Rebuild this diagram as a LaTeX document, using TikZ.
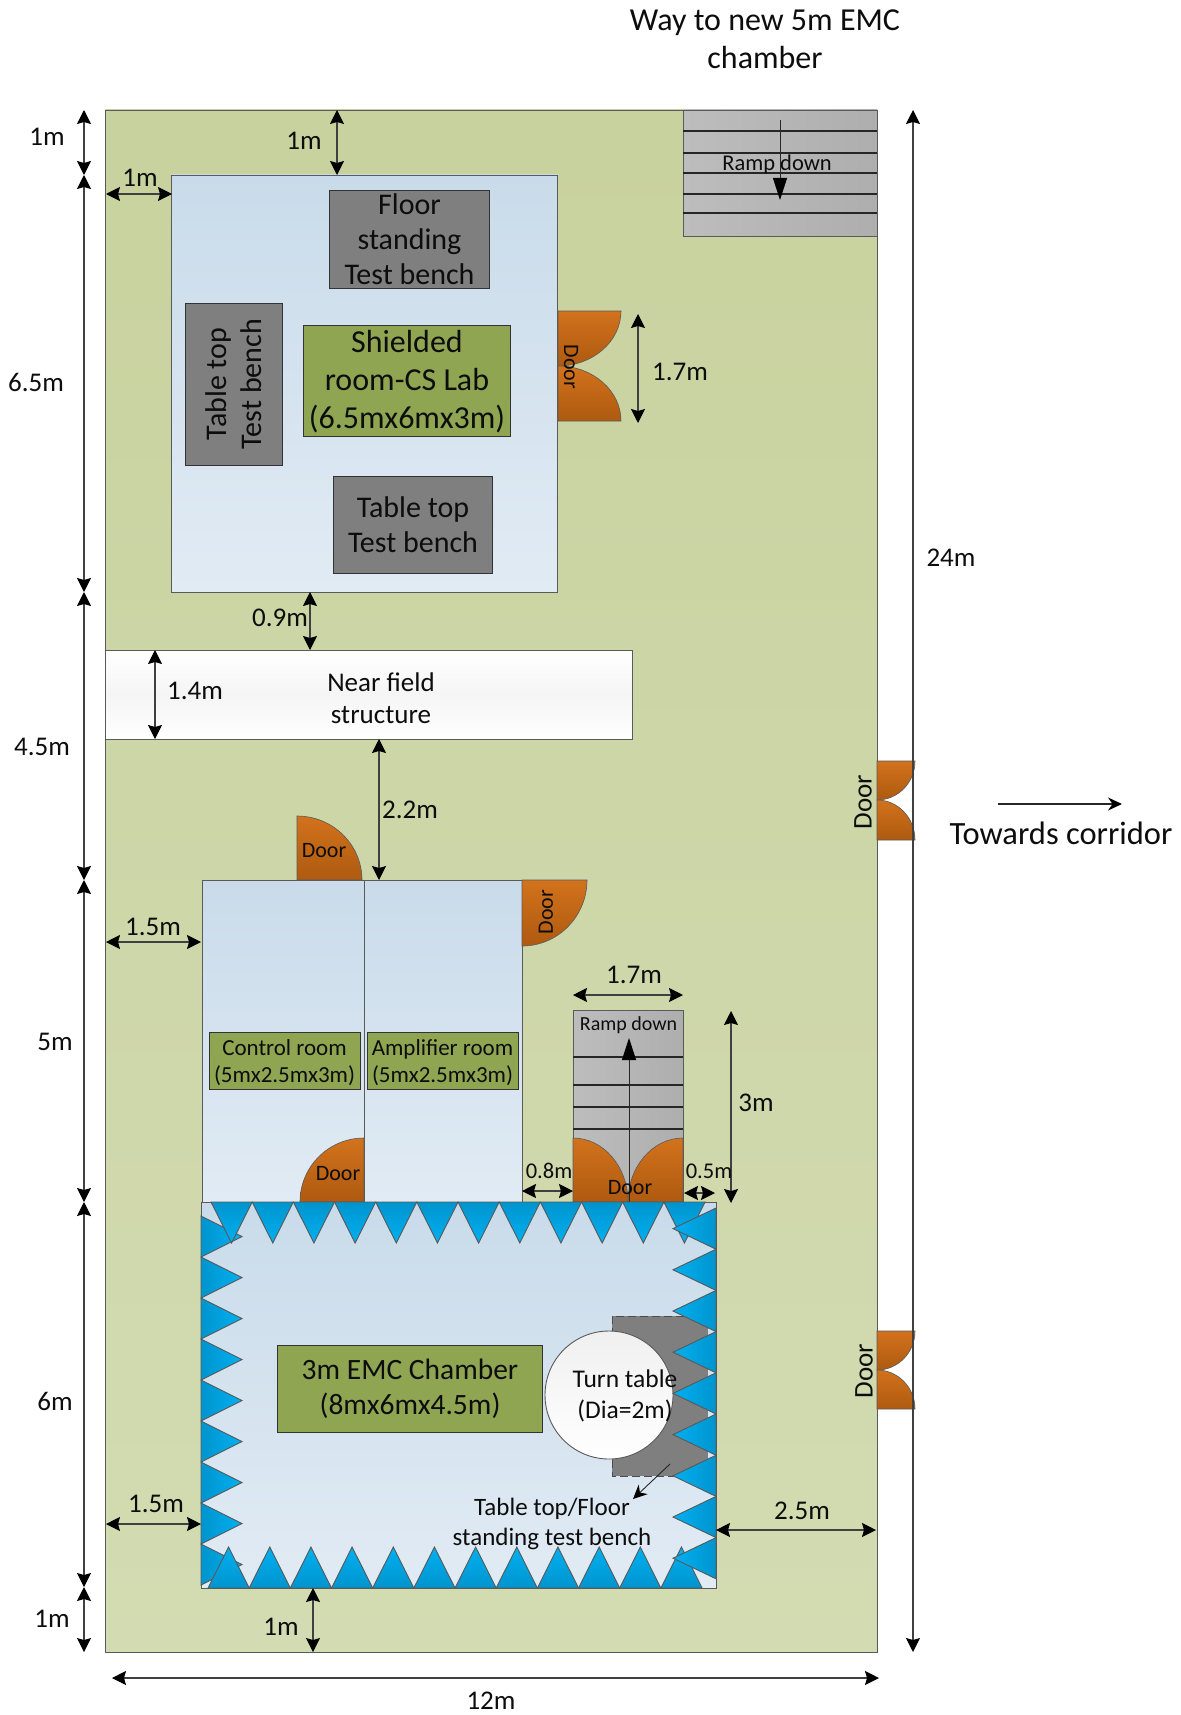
\documentclass[tikz,border=0pt]{standalone}
\usepackage{fontspec}
\setmainfont{Carlito}
\usetikzlibrary{arrows.meta}
\definecolor{edge}{HTML}{5A5A5A}
\definecolor{ink}{HTML}{0D0D0D}
\tikzset{
  x=1pt,y=-1pt,
  every node/.style={inner sep=0pt,outer sep=0pt,text=ink},
  lbl/.style={align=center,font=\fontsize{27}{30}\selectfont,yshift=-1pt},
  room/.style={draw=edge,line width=0.8pt,top color=roomtop,bottom color=roombot},
  panel/.style={draw=black!80,line width=0.9pt,fill=gray50,align=center},
  greenbox/.style={draw=black!80,line width=0.9pt,fill=grn,align=center},
  door/.style={draw=edge,line width=0.6pt,top color=doortop,bottom color=doorbot},
  dim/.style={draw=black!75,line width=1.2pt,{Stealth[length=14pt,width=14pt,inset=2pt,black]}-{Stealth[length=14pt,width=14pt,inset=2pt,black]}},
  onearrow/.style={draw=black!85,line width=1pt,-{Stealth[length=14pt,width=13pt,black]}},
  bigarrow/.style={draw=black!85,line width=1pt,-{Stealth[length=22pt,width=14pt,inset=0pt,black]}},
  tread/.style={draw=black!85,line width=1.2pt},
  ramp/.style={draw=edge,line width=0.9pt,left color=rampa,right color=rampb},
  toothdraw/.style={draw=black!65,line width=0.9pt},
}
\definecolor{roomtop}{HTML}{C9DBEA}
\definecolor{roombot}{HTML}{E1EBF4}
\definecolor{gray50}{HTML}{7F7F7F}
\definecolor{grn}{HTML}{8FA552}
\definecolor{doortop}{HTML}{D2721C}
\definecolor{doorbot}{HTML}{AE5A10}
\definecolor{rampa}{HTML}{BDBDBD}
\definecolor{rampb}{HTML}{AEAEAE}
\definecolor{bluelight}{HTML}{00B0F0}
\definecolor{bluedark}{HTML}{0094CE}
\definecolor{sitetop}{RGB}{200,210,158}
\definecolor{sitebot}{RGB}{211,219,178}
\newcommand{\dimline}[3]{\coordinate (#1a) at (#2);\coordinate (#1b) at (#3);\draw[dim] (#1a) -- (#1b);}
% quarter-ellipse door leaf: corner cx,cy and signed radii rx,ry
\newcommand{\qdoor}[4]{%
  \pgfmathsetmacro{\qex}{#1+#3}\pgfmathsetmacro{\qey}{#2+#4}%
  \pgfmathsetmacro{\qax}{#2+0.5523*#4}\pgfmathsetmacro{\qbx}{#1+0.5523*#3}%
  \path[door] (#1,#2) -- (\qex,#2) .. controls (\qex,\qax) and (\qbx,\qey) .. (#1,\qey) -- cycle;}
\begin{document}
\begin{tikzpicture}
\useasboundingbox (0,0) rectangle (1180,1715);
\fill[white] (0,0) rectangle (1180,1715);
% site
\path[draw=edge,line width=0.8pt,top color=sitetop,bottom color=sitebot] (105,110) rectangle (877,1652);
% top ramp
\path[ramp] (683,110) rectangle (877,236);
\foreach \yy in {131,153,173,194,213} \draw[tread] (683,\yy) -- (877,\yy);
\coordinate (rampTopA) at (780,120); \coordinate (rampTopB) at (780,200);
\draw[bigarrow] (rampTopA) -- (rampTopB);
\node[font=\fontsize{22.5}{24}\selectfont] (rampTop) at (777,165) {Ramp down};
% shielded room
\path[room] (171.5,175) rectangle (557.5,592);
\node[panel,minimum width=160pt,minimum height=98pt,font=\fontsize{30}{35}\selectfont] (floorbench) at (409.5,239) {Floor\\standing\\Test bench};
\node[panel,rotate=90,minimum width=162pt,minimum height=97pt,font=\fontsize{30}{35}\selectfont] (tablebenchA) at (234,384) {Table top\\Test bench};
\node[greenbox,minimum width=207pt,minimum height=111pt,label={[yshift=-1.5pt,align=center,font=\fontsize{32}{38}\selectfont]center:{Shielded\\room-CS Lab\\(6.5mx6mx3m)}}] (shielded) at (407,380.5) {};
\node[panel,minimum width=159pt,minimum height=97pt,font=\fontsize{30}{35}\selectfont] (tablebenchB) at (413,524.5) {Table top\\Test bench};
% shielded door
\qdoor{558}{311}{63}{55}
\qdoor{558}{421}{63}{-55}
\node[rotate=-90,font=\fontsize{22}{24}\selectfont] (doorShield) at (571,367) {Door};
% near field
\path[draw=edge,line width=0.8pt,top color=white,bottom color=white,middle color=white!96!black] (105,650) rectangle (632,739);
\node[align=center,font=\fontsize{27}{32}\selectfont] (nearfield) at (381,698.5) {Near field\\structure};
% control and amplifier rooms
\path[room] (202,880) rectangle (364,1202);
\path[room] (364,880) rectangle (522,1202);
\qdoor{297}{880}{65}{-64}
\qdoor{522}{880}{65}{66}
\qdoor{364}{1202}{-64}{-64}
\node[font=\fontsize{22}{24}\selectfont] (doorTop) at (324,851) {Door};
\node[rotate=90,font=\fontsize{22}{24}\selectfont] (doorAmp) at (546,912) {Door};
\node[font=\fontsize{22}{24}\selectfont] (doorCtrl) at (338,1174) {Door};
\node[greenbox,minimum width=151pt,minimum height=57pt,label={[yshift=-2pt,align=center,font=\fontsize{23}{27}\selectfont]center:{Control room\\(5mx2.5mx3m)}}] (control) at (284.5,1060.5) {};
\node[greenbox,minimum width=151pt,minimum height=57pt,label={[yshift=-2pt,align=center,font=\fontsize{23}{27}\selectfont]center:{Amplifier room\\(5mx2.5mx3m)}}] (amplifier) at (442.5,1060.5) {};
% lower ramp
\path[ramp] (573,1010) rectangle (683,1202);
\foreach \yy in {1057,1085,1107,1129} \draw[tread] (573,\yy) -- (683,\yy);
\qdoor{573}{1202}{55}{-64}
\qdoor{683}{1202}{-55}{-64}
\coordinate (rampLowA) at (629,1202); \coordinate (rampLowB) at (629,1038);
\draw[bigarrow] (rampLowA) -- (rampLowB);
\node[font=\fontsize{20}{24}\selectfont] (rampLow) at (628.5,1025) {Ramp down};
\node[font=\fontsize{22}{24}\selectfont] (doorRamp) at (630,1188) {Door};
% chamber
\path[room] (201,1202) rectangle (716,1588);
\fill[gray50] (612,1316) rectangle (708,1476);
\draw[black!70,dash pattern=on 8pt off 4pt,line width=1pt] (708,1316) -- (612,1316) -- (612,1476) -- (708,1476);
\draw[draw=edge,line width=0.9pt,top color=white!94!black,bottom color=white] (609,1395) circle[radius=64];
\node[greenbox,minimum width=265pt,minimum height=87pt,font=\fontsize{29.5}{35}\selectfont] (emc) at (410,1388.5) {3m EMC Chamber\\(8mx6mx4.5m)};
% absorber teeth
\foreach \i in {0,...,8} {
  \pgfmathsetmacro{\ya}{1216+41*\i}\pgfmathsetmacro{\yb}{\ya+41}\pgfmathsetmacro{\ym}{\ya+20.5}
  \path[toothdraw,left color=bluedark,right color=bluelight] (201,\ya) -- (242,\ym) -- (201,\yb) -- cycle;
}
\foreach \i in {0,...,11} {
  \pgfmathsetmacro{\xa}{211+41.17*\i}\pgfmathsetmacro{\xb}{\xa+41.17}\pgfmathsetmacro{\xm}{\xa+20.6}
  \path[toothdraw,top color=bluedark,bottom color=bluelight] (\xa,1202) -- (\xm,1243) -- (\xb,1202) -- cycle;
}
\foreach \i in {0,...,11} {
  \pgfmathsetmacro{\xa}{208+41.17*\i}\pgfmathsetmacro{\xb}{\xa+41.17}\pgfmathsetmacro{\xm}{\xa+20.6}
  \path[toothdraw,top color=bluelight,bottom color=bluedark] (\xa,1588) -- (\xm,1547) -- (\xb,1588) -- cycle;
}
\foreach \i in {0,...,8} {
  \pgfmathsetmacro{\ya}{1208+41.2*\i}\pgfmathsetmacro{\yb}{\ya+41.2}\pgfmathsetmacro{\ym}{\ya+20.6}
  \path[toothdraw,left color=bluelight,right color=bluedark] (716,\ya) -- (673,\ym) -- (716,\yb) -- cycle;
}
\node[align=center,font=\fontsize{25.5}{31}\selectfont] (turntable) at (625,1396) {Turn table\\(Dia=2m)};
\node[align=center,font=\fontsize{25}{30}\selectfont] (benchlabel) at (552,1523.5) {Table top/Floor\\standing test bench};
\coordinate (benchA) at (670,1464); \coordinate (benchB) at (633,1499);
\draw[onearrow,line width=0.9pt] (benchA) -- (benchB);
% side doors
\qdoor{877}{761}{38}{39}
\qdoor{877}{840}{38}{-40}
\qdoor{877}{1331}{38}{39}
\qdoor{877}{1409}{38}{-39}
\node[rotate=90,font=\fontsize{27}{28}\selectfont] (doorSideA) at (863,802) {Door};
\node[rotate=90,font=\fontsize{27}{28}\selectfont] (doorSideB) at (864,1371) {Door};
% dimensions
\dimline{lA}{84,110}{84,175}
\dimline{lB}{84,175}{84,592}
\dimline{lC}{84,592}{84,880}
\dimline{lD}{84,880}{84,1202}
\dimline{lE}{84,1202}{84,1587}
\dimline{lF}{84,1587}{84,1652}
\dimline{hA}{106,194}{172,194}
\dimline{vA}{337,110}{337,175}
\dimline{vB}{310,592}{310,650}
\dimline{vC}{155,650}{155,739}
\dimline{vD}{379,739}{379,880}
\dimline{hB}{106,942}{201,942}
\dimline{vE}{638,314}{638,423}
\dimline{vTot}{913,110}{913,1652}
\dimline{hTot}{112,1678}{879,1678}
\dimline{vF}{313,1588}{313,1652}
\dimline{hC}{106,1524}{201,1524}
\dimline{hD}{716,1530}{876,1530}
\dimline{hE}{573,995}{683,995}
\dimline{vG}{731,1011}{731,1203}
\dimline{hF}{522,1191}{573,1191}
\dimline{hG}{684,1193}{715,1193}
\coordinate (corrA) at (998,804); \coordinate (corrB) at (1122,804);
\draw[onearrow,line width=1.1pt] (corrA) -- (corrB);
% dimension labels
\node[lbl] (t1) at (47,136) {1m};
\node[lbl] (t2) at (36,381) {6.5m};
\node[lbl] (t3) at (42,746) {4.5m};
\node[lbl] (t4) at (55,1041) {5m};
\node[lbl] (t5) at (55,1400) {6m};
\node[lbl] (t6) at (52,1618) {1m};
\node[lbl] (t7) at (140,177) {1m};
\node[lbl] (t8) at (304,140) {1m};
\node[lbl] (t9) at (280,617) {0.9m};
\node[lbl] (t10) at (195,690) {1.4m};
\node[lbl] (t11) at (410,809) {2.2m};
\node[lbl] (t12) at (153,926) {1.5m};
\node[lbl] (t13) at (680,371) {1.7m};
\node[lbl] (t14) at (951,557) {24m};
\node[lbl] (t15) at (491,1700) {12m};
\node[lbl] (t16) at (281,1626) {1m};
\node[lbl] (t17) at (156,1503) {1.5m};
\node[lbl] (t18) at (802,1510) {2.5m};
\node[lbl] (t19) at (634,974) {1.7m};
\node[lbl] (t20) at (756,1102) {3m};
\node[lbl,font=\fontsize{22.5}{24}\selectfont] (t21) at (549,1170) {0.8m};
\node[lbl,font=\fontsize{22.5}{24}\selectfont] (t22) at (709,1170) {0.5m};
\node[align=center,font=\fontsize{32}{38}\selectfont] (way) at (765,39) {Way to new 5m EMC\\chamber};
\node[align=center,font=\fontsize{32.5}{35}\selectfont] (corridor) at (1061,833) {Towards corridor};
\end{tikzpicture}
\end{document}
